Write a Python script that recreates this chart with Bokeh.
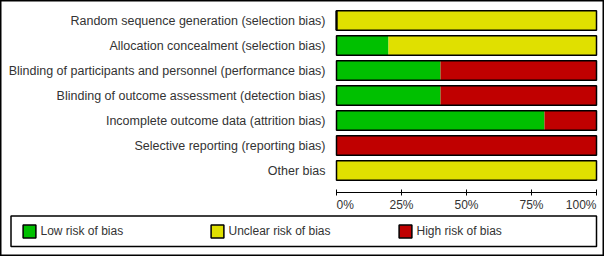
from bokeh.plotting import figure
from bokeh.models import (Range1d, ColumnDataSource, Legend, LegendItem,
                          BoxAnnotation)
from bokeh.core.properties import value
from bokeh.embed import file_html
from bokeh.resources import INLINE

# ---------------- data ----------------
categories = [
    "Random sequence generation (selection bias)",
    "Allocation concealment (selection bias)",
    "Blinding of participants and personnel (performance bias)",
    "Blinding of outcome assessment (detection bias)",
    "Incomplete outcome data (attrition bias)",
    "Selective reporting (reporting bias)",
    "Other bias",
]
low = [0, 20, 40, 40, 80, 0, 0]
unclear = [100, 80, 0, 0, 0, 0, 100]
high = [0, 0, 60, 60, 20, 100, 0]
tick_values = [0, 25, 50, 75, 100]
tick_labels = ["0%", "25%", "50%", "75%", "100%"]
legend_labels = ["Low risk of bias", "Unclear risk of bias", "High risk of bias"]
colors = ["#00C000", "#E0E000", "#C00000"]

# ---------------- layout / style constants (pixels) ----------------
W, H = 604, 256
X0_PX, X100_PX = 336, 596          # 0 % and 100 % positions
ROW0_PX, ROW_PX = 20, 25           # centre of first row, row pitch
BAR_H = 0.78
LABEL_RIGHT_PX = 325
AXIS_PX, TICK_UP_PX, TICK_DOWN_PX, TICKLABEL_PX = 192, 189, 195, 204
LEG_BOX = (10.5, 596, 215.5, 246)   # left, right, top, bottom
SWATCH, PAD = 16, 10
FONT = "Liberation Sans"
TXT = "#333333"
tick_align = ["left", "center", "center", "center", "right"]

PX = (X100_PX - X0_PX) / 100.0


def xd(px):
    return (px - X0_PX) / PX


def yd(px):
    return (px - ROW0_PX) / ROW_PX


p = figure(width=W, height=H,
           x_range=Range1d(xd(0), xd(W)),
           y_range=Range1d(yd(H), yd(0)),
           x_axis_location=None, y_axis_location=None,
           min_border=0, output_backend="svg",
           toolbar_location=None, tools="")
p.background_fill_color = "white"
p.border_fill_color = "white"
p.outline_line_color = "black"
p.outline_line_width = 2
p.xgrid.visible = False
p.ygrid.visible = False

idx = list(range(len(categories)))
totals = [a + b + c for a, b, c in zip(low, unclear, high)]
src = ColumnDataSource(dict(y=idx, cat=categories, low=low, unclear=unclear,
                            high=high, total=totals))

# stacked bars
p.hbar_stack(["low", "unclear", "high"], y="y", height=BAR_H,
             fill_color=colors, line_color=None, source=src)
p.hbar(y="y", left=0, right="total", height=BAR_H, fill_color=None,
       line_color="black", line_width=1.5, source=src)

# category labels
p.text(x=xd(LABEL_RIGHT_PX), y="y", text="cat", source=src,
       text_align="right", text_baseline="middle",
       text_font=value(FONT), text_font_size=value("12.5px"), text_color=TXT)

# percentage axis
p.segment(x0=tick_values[0], x1=tick_values[-1], y0=yd(AXIS_PX), y1=yd(AXIS_PX),
          line_color="black", line_width=1)
tsrc = ColumnDataSource(dict(x=tick_values, label=tick_labels, align=tick_align,
                             y0=[yd(TICK_UP_PX)] * len(tick_values),
                             y1=[yd(TICK_DOWN_PX)] * len(tick_values),
                             yl=[yd(TICKLABEL_PX)] * len(tick_values)))
p.segment(x0="x", x1="x", y0="y0", y1="y1", line_color="black", line_width=1,
          source=tsrc)
p.text(x="x", y="yl", text="label", text_align="align", text_baseline="middle",
       text_font=value(FONT), text_font_size=value("12px"), text_color=TXT,
       source=tsrc)

# legend proxies (bordered swatches): zero-width bars at the 0 % edge of the
# first row, hidden under that bar's own outline
proxies = [p.hbar(y=[idx[0]], left=[0], right=[0], height=BAR_H, fill_color=c,
                  line_color="black", line_width=1.5) for c in colors]

l_left, l_right, l_top, l_bottom = LEG_BOX
item_top = (l_top + l_bottom) / 2 - SWATCH / 2
legend = Legend(
    items=[LegendItem(label=l, renderers=[r]) for l, r in zip(legend_labels, proxies)],
    orientation="horizontal",
    location=(l_left + 10 - PAD, H - (item_top - PAD) - (SWATCH + 2 * PAD)),
    padding=PAD, spacing=0, margin=0,
    glyph_width=SWATCH, glyph_height=SWATCH, label_height=SWATCH,
    label_width=168, label_standoff=4,
    border_line_alpha=0, background_fill_alpha=0,
    label_text_font=FONT, label_text_font_size="12px", label_text_color=TXT,
)
p.add_layout(legend)

legend_box = BoxAnnotation(left=l_left, right=l_right,
                           top=H - l_top, bottom=H - l_bottom,
                           left_units="screen", right_units="screen",
                           top_units="screen", bottom_units="screen",
                           fill_color=None, fill_alpha=0,
                           line_color="black", line_width=1.5, line_alpha=1)
p.add_layout(legend_box)

open("out.html", "w").write(file_html(p, INLINE))
